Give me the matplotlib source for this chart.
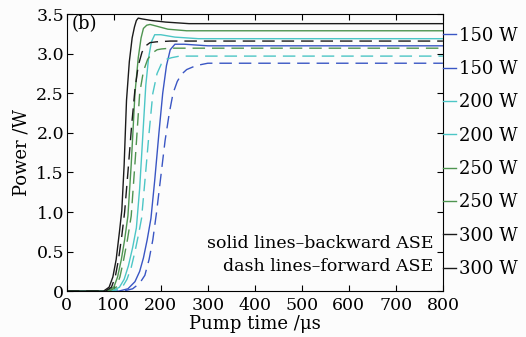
import matplotlib.pyplot as plt
from matplotlib.lines import Line2D

# pump time (us) / power (W)
t_300_back = [0, 78, 90, 98, 105, 112, 117, 122, 127, 133, 139, 144, 148, 152, 160, 180, 210, 260, 800]
p_300_back = [0, 0, 0.05, 0.18, 0.4, 0.75, 1.02, 1.6, 2.41, 2.9, 3.2, 3.34, 3.42, 3.45, 3.44, 3.42, 3.40, 3.38, 3.38]
t_300_fwd = [0, 82, 95, 103, 110, 117, 123, 130, 138, 145, 152, 160, 168, 177, 190, 220, 800]
p_300_fwd = [0, 0, 0.05, 0.18, 0.4, 0.7, 1.0, 1.5, 2.1, 2.55, 2.85, 3.02, 3.10, 3.14, 3.15, 3.16, 3.16]

t_250_back = [0, 85, 100, 108, 116, 123, 130, 137, 145, 152, 158, 163, 170, 177, 190, 215, 255, 800]
p_250_back = [0, 0, 0.05, 0.18, 0.4, 0.65, 0.95, 1.6, 2.5, 2.95, 3.2, 3.32, 3.36, 3.37, 3.35, 3.31, 3.29, 3.29]
t_250_fwd = [0, 90, 105, 113, 121, 129, 137, 146, 155, 163, 172, 182, 192, 201, 220, 800]
p_250_fwd = [0, 0, 0.05, 0.18, 0.4, 0.65, 0.95, 1.7, 2.5, 2.78, 2.93, 3.01, 3.05, 3.06, 3.07, 3.07]

t_200_back = [0, 95, 112, 122, 131, 140, 148, 155, 162, 168, 174, 180, 187, 200, 230, 280, 800]
p_200_back = [0, 0, 0.05, 0.15, 0.32, 0.55, 0.8, 1.3, 2.0, 2.6, 2.95, 3.15, 3.24, 3.24, 3.21, 3.19, 3.19]
t_200_fwd = [0, 100, 118, 128, 137, 145, 152, 159, 167, 175, 183, 192, 201, 212, 223, 240, 800]
p_200_fwd = [0, 0, 0.05, 0.15, 0.3, 0.5, 0.7, 0.92, 1.45, 2.0, 2.5, 2.75, 2.87, 2.93, 2.95, 2.97, 2.97]

t_150_back = [0, 110, 130, 145, 155, 163, 171, 179, 187, 196, 204, 212, 220, 230, 250, 300, 800]
p_150_back = [0, 0, 0.03, 0.12, 0.25, 0.42, 0.65, 0.92, 1.4, 2.0, 2.5, 2.85, 3.05, 3.12, 3.12, 3.10, 3.10]
t_150_fwd = [0, 120, 140, 155, 166, 175, 183, 191, 200, 209, 218, 226, 235, 244, 255, 275, 300, 800]
p_150_fwd = [0, 0, 0.03, 0.1, 0.2, 0.4, 0.65, 1.0, 1.45, 1.9, 2.25, 2.5, 2.65, 2.74, 2.8, 2.85, 2.88, 2.88]

labels = ["150 W", "150 W", "200 W", "200 W", "250 W", "250 W", "300 W", "300 W"]

plt.rcParams['font.family'] = ['DejaVu Serif']

fig = plt.figure(figsize=(5.26, 3.37), dpi=100, facecolor='#fcfcfc')
ax = fig.add_axes([0.127, 0.136, 0.715, 0.822])
ax.set_facecolor('#fcfcfc')

blue = '#3a56c4'
cyan = '#4cc6c6'
green = '#4e9450'
black = '#1a1a1a'
dash = (0, (9, 5))

series = [
    (t_150_back, p_150_back, blue, '-'),
    (t_150_fwd, p_150_fwd, blue, dash),
    (t_200_back, p_200_back, cyan, '-'),
    (t_200_fwd, p_200_fwd, cyan, dash),
    (t_250_back, p_250_back, green, '-'),
    (t_250_fwd, p_250_fwd, green, dash),
    (t_300_back, p_300_back, black, '-'),
    (t_300_fwd, p_300_fwd, black, dash),
]
handles = []
for t, p, c, ls in series:
    ax.plot(t, p, color=c, linestyle=ls, linewidth=1.0)
    # legend handles are too short to show the dashes
    handles.append(Line2D([], [], color=c, linewidth=1.0))

ax.set_xlim(0, 800)
ax.set_ylim(0, 3.5)
ax.set_xticks(range(0, 801, 100))
ax.set_yticks([0, 0.5, 1.0, 1.5, 2.0, 2.5, 3.0, 3.5])
ax.set_yticklabels(["0", "0.5", "1.0", "1.5", "2.0", "2.5", "3.0", "3.5"])
ax.tick_params(direction='in', top=True, right=True, labelsize=12.5, length=4, pad=2)
ax.tick_params(axis='x', pad=4)
ax.set_xlabel("Pump time /\u03bcs", fontsize=13, labelpad=1)
ax.set_ylabel("Power /W", fontsize=13, labelpad=4)

ax.text(10, 3.38, "(b)", fontsize=13, va='center')
ax.text(780, 0.6, "solid lines\u2013backward ASE", fontsize=12.5, ha='right', va='center')
ax.text(780, 0.31, "dash lines\u2013forward ASE", fontsize=12.5, ha='right', va='center')

ax.legend(handles, labels, loc='upper left', bbox_to_anchor=(1.0, 0.955),
          frameon=False, fontsize=13, handlelength=0.75, handletextpad=0.15,
          labelspacing=0.85, borderpad=0, borderaxespad=0)

fig.savefig("out.png", dpi=100, facecolor=fig.get_facecolor())
